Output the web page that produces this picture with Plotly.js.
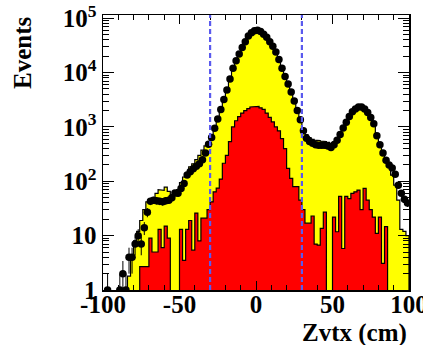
<!DOCTYPE html>
<html><head><meta charset="utf-8">
<script src="https://cdn.plot.ly/plotly-3.0.1.min.js"></script>
<style>html,body{margin:0;padding:0;background:#fff}#plot{width:423px;height:345px}</style>
</head><body><div id="plot"></div>
<script>
// Bin centres (cm), 2 cm bins from -100 to 100
const zvtxCenters = [-99,-97,-95,-93,-91,-89,-87,-85,-83,-81,-79,-77,-75,-73,-71,-69,-67,-65,-63,-61,
  -59,-57,-55,-53,-51,-49,-47,-45,-43,-41,-39,-37,-35,-33,-31,-29,-27,-25,-23,-21,
  -19,-17,-15,-13,-11,-9,-7,-5,-3,-1,1,3,5,7,9,11,13,15,17,19,
  21,23,25,27,29,31,33,35,37,39,41,43,45,47,49,51,53,55,57,59,
  61,63,65,67,69,71,73,75,77,79,81,83,85,87,89,91,93,95,97,99];
const binWidth = 2;

// Data (black points)
const dataEvents = [0,1,0,0,0,1,2,1,4,4,7,10,7,14,27,43,45,44,43,42,
  44,45,50,61,60,74,91,130,150,170,190,210,250,330,480,640,950,1400,2100,3200,
  4800,7600,12000,16500,22000,29000,37000,47000,54000,59000,60000,57000,51000,44500,37000,30500,24000,17500,12000,8500,
  6200,4400,3000,2000,1350,850,620,540,500,470,460,460,460,445,420,470,570,730,960,1220,
  1550,1900,2150,2330,2330,2150,1850,1500,1150,690,470,330,245,200,175,135,85,60,47,40];

// Total simulation (yellow)
const mcTotal = [0,0,0,0,0,0,0,0,1.8,4,8,12,19,30,42,45,46,60,70,68,
  78,65,55,56,70,95,120,145,185,210,250,300,375,450,520,680,950,1400,2050,3200,
  4800,7500,11500,16000,21500,28500,36000,46000,53000,58000,59000,56000,50000,44000,36500,30500,24000,17500,12500,9000,
  6300,4400,3000,2000,1400,900,720,640,590,570,560,550,540,520,500,530,620,760,980,1250,
  1550,1900,2150,2300,2300,2150,1850,1500,1150,720,480,330,240,190,130,85,45,13,12,10];

// Component (red)
const mcComponent = [0,0,0,0,0,0,0,0,0,0,0,0,2.7,2.7,2.7,9,5,5,13,6,
  15,9,0,0,0,13,3.5,13,19,5.4,26,8,21,21,30,42,64,75,110,215,
  300,535,1000,1300,1550,1800,2000,2180,2330,2400,2400,2250,2100,1800,1500,1240,1000,850,610,400,
  173,113,80,80,45,30,17,17,23,7,6.7,13.6,27,0,0,22,11.8,53,5.8,53,
  48,60,64,69,30,74,45,30,22,11,22,3.1,14.6,0,0,0,0,0,0,0];

const xTickVals = [-100,-50,0,50,100];
const xTickText = ['-100','-50','0','50','100'];
const yTickVals = [1,10,100,1000,10000,100000];
const yTickText = ['1','10','10<sup>2</sup>','10<sup>3</sup>','10<sup>4</sup>','10<sup>5</sup>'];
const cutLines = [-30, 30];
const xTitle = 'Zvtx (cm)';
const yTitle = 'Events';

// Build step-histogram outline polygons
function stepPoly(vals) {
  const base = 0.05;
  const xs = [zvtxCenters[0] - binWidth/2], ys = [base];
  for (let i = 0; i < zvtxCenters.length; i++) {
    const v = vals[i] > 0 ? vals[i] : base;
    xs.push(zvtxCenters[i] - binWidth/2, zvtxCenters[i] + binWidth/2);
    ys.push(v, v);
  }
  xs.push(zvtxCenters[zvtxCenters.length-1] + binWidth/2); ys.push(base);
  return {xs, ys};
}
const yel = stepPoly(mcTotal);
const red = stepPoly(mcComponent);

const ptsY = dataEvents.map(v => v > 0 ? v : null);
const errP = dataEvents.map(v => v > 0 ? Math.sqrt(v) : 0);
const errM = dataEvents.map(v => v > 0 ? Math.min(Math.sqrt(v), v*0.999) : 0);

const minorY = [];
for (let d = 1; d <= 100000; d *= 10) for (let k = 2; k <= 9; k++) minorY.push(k*d);

const traces = [
  {x: yel.xs, y: yel.ys, type:'scatter', mode:'lines', fill:'toself', fillcolor:'#ffff00',
   line:{color:'#000', width:1.2}, hoverinfo:'skip', showlegend:false},
  {x: red.xs, y: red.ys, type:'scatter', mode:'lines', fill:'toself', fillcolor:'#ff0000',
   line:{color:'#000', width:1.2}, hoverinfo:'skip', showlegend:false},
  {x: zvtxCenters, y: ptsY, type:'scatter', mode:'markers',
   marker:{color:'#000', size:7.5},
   error_y:{type:'data', array:errP, arrayminus:errM, symmetric:false, color:'#000', thickness:1, width:0},
   showlegend:false}
];

const fontFam = 'Liberation Serif, Times New Roman, serif';
const layout = {
  width:423, height:345,
  margin:{l:103, r:14, t:15, b:55},
  paper_bgcolor:'#fff', plot_bgcolor:'#fff',
  showlegend:false,
  font:{family:fontFam, color:'#000'},
  xaxis:{range:[-100,100], showgrid:false, zeroline:false,
    showline:true, linecolor:'#000', linewidth:1.5, mirror:'ticks',
    ticks:'inside', ticklen:9, tickwidth:1, tickcolor:'#000',
    tickmode:'array', tickvals:xTickVals, ticktext:xTickText.map(t => '<b>'+t+'</b>'),
    ticklabeloverflow:'allow', ticklabelstandoff:-9,
    tickfont:{family:fontFam, size:25, color:'#000'},
    minor:{dtick:10, ticks:'inside', ticklen:5, tickcolor:'#000', showgrid:false}},
  yaxis:{type:'log', range:[0,5.06], showgrid:false, zeroline:false,
    showline:true, linecolor:'#000', linewidth:1.5, mirror:'ticks',
    ticks:'inside', ticklen:11, tickwidth:1, tickcolor:'#000',
    tickmode:'array', tickvals:yTickVals, ticktext:yTickText.map(t => '<b>'+t+'</b>'),
    ticklabeloverflow:'allow',
    tickfont:{family:fontFam, size:25, color:'#000'},
    minor:{tickmode:'array', tickvals:minorY, ticks:'inside', ticklen:6, tickcolor:'#000', showgrid:false}},
  shapes: cutLines.map(c => ({type:'line', xref:'x', yref:'paper', x0:c, x1:c, y0:0, y1:1,
    line:{color:'#5a5aee', width:2.2, dash:'5px,3px'}, layer:'above'})),
  annotations:[
    {text:'<b>'+xTitle+'</b>', xref:'paper', yref:'paper', x:1, y:-0.155, xanchor:'right', yanchor:'middle',
     showarrow:false, font:{family:fontFam, size:25, color:'#000'}},
    {text:'<b>'+yTitle+'</b>', xref:'paper', yref:'paper', x:-0.265, y:0.865, xanchor:'center', yanchor:'middle',
     textangle:-90, showarrow:false, font:{family:fontFam, size:25, color:'#000'}}
  ]
};
Plotly.newPlot('plot', traces, layout, {staticPlot:true, displayModeBar:false});
</script>
</body></html>
